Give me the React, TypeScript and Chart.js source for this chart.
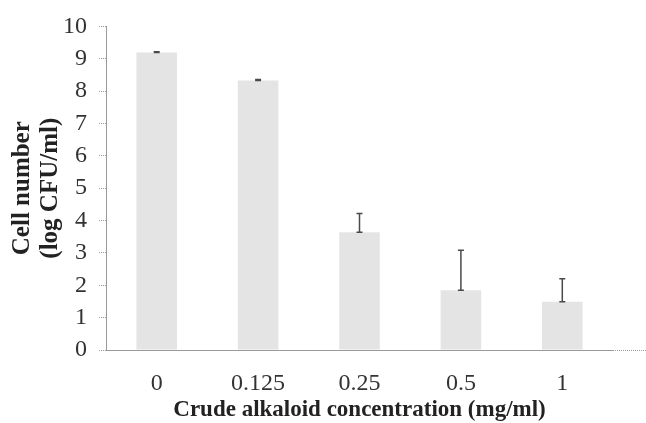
import React, { useEffect, useRef } from "react";
import { Chart, registerables } from "chart.js";

Chart.register(...registerables);

const categories = ["0", "0.125", "0.25", "0.5", "1"];
const cellCounts = [9.19, 8.33, 3.64, 1.85, 1.49];
const errors = [0.03, 0.03, 0.58, 1.23, 0.71];
const yTicks = [0, 1, 2, 3, 4, 5, 6, 7, 8, 9, 10];

const errorBarPlugin = {
  id: "errorBars",
  afterDatasetsDraw(chart: any) {
    const { ctx } = chart;
    const meta = chart.getDatasetMeta(0);
    const y = chart.scales.y;
    ctx.save();
    ctx.strokeStyle = "#4a4a4a";
    ctx.lineWidth = 1.5;
    meta.data.forEach((bar: any, i: number) => {
      const v = cellCounts[i];
      const top = y.getPixelForValue(v + errors[i]);
      const base = y.getPixelForValue(v);
      const x = bar.x;
      ctx.beginPath();
      ctx.moveTo(x, base);
      ctx.lineTo(x, top);
      ctx.moveTo(x - 3, top);
      ctx.lineTo(x + 3, top);
      ctx.moveTo(x - 3, base);
      ctx.lineTo(x + 3, base);
      ctx.stroke();
    });
    ctx.restore();
  },
};

const axisExtendPlugin = {
  id: "axisExtend",
  afterDraw(chart: any) {
    const { ctx, chartArea } = chart;
    const y0 = chart.scales.y.getPixelForValue(0);
    ctx.save();
    ctx.strokeStyle = "#9a9a9a";
    ctx.lineWidth = 1;
    ctx.setLineDash([1, 1]);
    ctx.beginPath();
    ctx.moveTo(chartArea.right, y0 + 0.5);
    ctx.lineTo(chart.width, y0 + 0.5);
    ctx.stroke();
    ctx.restore();
  },
};

export default function App() {
  const ref = useRef<HTMLCanvasElement>(null);
  useEffect(() => {
    if (!ref.current) return;
    const chart = new Chart(ref.current, {
      type: "bar",
      data: {
        labels: categories,
        datasets: [
          {
            data: cellCounts,
            backgroundColor: "#e4e4e4",
            borderWidth: 0,
            barPercentage: 0.4,
            categoryPercentage: 1,
          },
        ],
      },
      options: {
        animation: false,
        responsive: false,
        devicePixelRatio: 1,
        layout: { padding: { top: 20, right: 33, bottom: 0, left: 0 } },
        plugins: { legend: { display: false }, tooltip: { enabled: false } },
        scales: {
          x: {
            offset: true,
            grid: { display: false, drawTicks: false },
            border: { display: true, color: "#9a9a9a", dash: [1, 1] },
            ticks: {
              padding: 19,
              color: "#333",
              font: { family: "Liberation Serif", size: 24 },
            },
            title: {
              display: true,
              text: "Crude alkaloid concentration (mg/ml)",
              color: "#222",
              font: { family: "Liberation Serif", size: 23, weight: "bold", lineHeight: 1.13 },
              padding: { top: 0, bottom: 0 },
            },
            afterFit(scale: any) {
              scale.height = 73;
            },
          },
          y: {
            min: 0,
            max: 10,
            afterBuildTicks(scale: any) {
              scale.ticks = yTicks.map((v) => ({ value: v }));
            },
            grid: {
              drawOnChartArea: false,
              drawTicks: true,
              tickLength: 7,
              tickColor: "#9a9a9a",
              tickBorderDash: [1, 1],
            },
            border: { display: true, color: "#9a9a9a", dash: [1, 1] },
            ticks: {
              padding: 12,
              color: "#333",
              font: { family: "Liberation Serif", size: 24 },
            },
            title: {
              display: true,
              text: ["Cell number", "(log CFU/ml)"],
              color: "#222",
              font: { family: "Liberation Serif", size: 25, weight: "bold", lineHeight: 1.12 },
              padding: { top: 9, bottom: 0 },
            },
            afterFit(scale: any) {
              scale.width = 106;
            },
          },
        },
      },
      plugins: [errorBarPlugin, axisExtendPlugin],
    });
    return () => chart.destroy();
  }, []);
  return (
    <div style={{ position: "absolute", left: 0, top: 0, width: 646, height: 423, background: "#fff" }}>
      <canvas ref={ref} width={646} height={423} />
    </div>
  );
}
